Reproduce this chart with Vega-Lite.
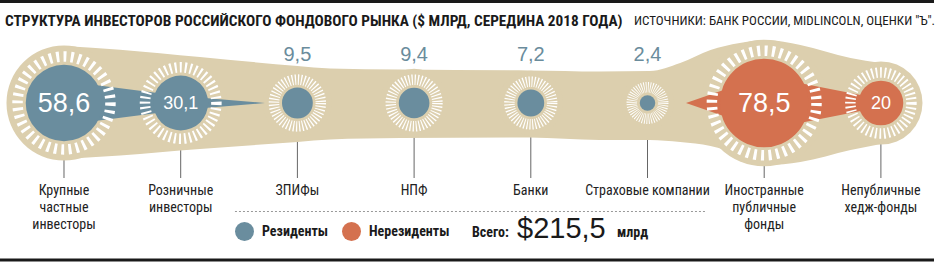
{
  "$schema": "https://vega.github.io/schema/vega-lite/v6.json",
  "width": 937,
  "height": 262,
  "padding": 0,
  "autosize": {"type": "none"},
  "background": "white",
  "config": {"view": {"stroke": null}, "axis": {"disable": true}},
  "datasets": {
    "nodes": [
      {"i": 0, "name": "Крупные частные инвесторы", "label": "Крупные\nчастные\nинвесторы", "value": 58.6, "text": "58,6", "group": "Резиденты"},
      {"i": 1, "name": "Розничные инвесторы", "label": "Розничные\nинвесторы", "value": 30.1, "text": "30,1", "group": "Резиденты"},
      {"i": 2, "name": "ЗПИФы", "label": "ЗПИФы", "value": 9.5, "text": "9,5", "group": "Резиденты"},
      {"i": 3, "name": "НПФ", "label": "НПФ", "value": 9.4, "text": "9,4", "group": "Резиденты"},
      {"i": 4, "name": "Банки", "label": "Банки", "value": 7.2, "text": "7,2", "group": "Резиденты"},
      {"i": 5, "name": "Страховые компании", "label": "Страховые компании", "value": 2.4, "text": "2,4", "group": "Резиденты"},
      {"i": 6, "name": "Иностранные публичные фонды", "label": "Иностранные\nпубличные\nфонды", "value": 78.5, "text": "78,5", "group": "Нерезиденты"},
      {"i": 7, "name": "Непубличные хедж-фонды", "label": "Непубличные\nхедж-фонды", "value": 20, "text": "20", "group": "Нерезиденты"}
    ],
    "band": [
      {"x": 0, "top": 57, "bot": -56},
      {"x": 0.48, "top": 53.3, "bot": -52.5},
      {"x": 1.165, "top": 46, "bot": -46},
      {"x": 2.0, "top": 37, "bot": -39},
      {"x": 2.28, "top": 34.5, "bot": -36.5},
      {"x": 2.88, "top": 33.5, "bot": -35},
      {"x": 3.99, "top": 32.5, "bot": -34.5},
      {"x": 4.59, "top": 31.5, "bot": -37},
      {"x": 5.02, "top": 32, "bot": -37},
      {"x": 5.28, "top": 40, "bot": -39},
      {"x": 5.54, "top": 53, "bot": -43},
      {"x": 5.79, "top": 60, "bot": -52},
      {"x": 6.02, "top": 63, "bot": -62},
      {"x": 6.31, "top": 58, "bot": -59},
      {"x": 6.74, "top": 45, "bot": -47},
      {"x": 7.0, "top": 40, "bot": -41}
    ],
    "wedges": [
      {"group": "Резиденты", "x": 0, "top": 22, "bot": -22},
      {"group": "Резиденты", "x": 1, "top": 7, "bot": -7},
      {"group": "Резиденты", "x": 1.722, "top": 0, "bot": 0},
      {"group": "Нерезиденты", "x": 5.33, "top": 0, "bot": 0},
      {"group": "Нерезиденты", "x": 6, "top": 27, "bot": -27},
      {"group": "Нерезиденты", "x": 7, "top": 4, "bot": -4}
    ]
  },
  "data": {"name": "nodes"},
  "resolve": {"scale": {"size": "independent"}},
  "layer": [
    {
      "data": {"values": [{}]},
      "mark": {"type": "rule", "color": "#1a1a1a", "strokeWidth": 3},
      "encoding": {
        "x": {"datum": -0.5484, "type": "quantitative", "scale": {"domain": [-0.5484, 7.4807], "nice": false, "zero": false}},
        "x2": {"datum": 7.455},
        "y": {"datum": 101.5, "type": "quantitative", "scale": {"domain": [-159, 103], "nice": false, "zero": false}}
      }
    },
    {
      "data": {"values": [{}]},
      "mark": {"type": "rule", "color": "#1a1a1a", "strokeWidth": 3},
      "encoding": {
        "x": {"datum": -0.5484, "type": "quantitative", "scale": {"domain": [-0.5484, 7.4807], "nice": false, "zero": false}},
        "x2": {"datum": 7.455},
        "y": {"datum": -157, "type": "quantitative", "scale": {"domain": [-159, 103], "nice": false, "zero": false}}
      }
    },
    {
      "mark": {"type": "rule", "color": "#666666", "strokeWidth": 1},
      "encoding": {
        "x": {"field": "i", "type": "quantitative", "scale": {"domain": [-0.5484, 7.4807], "nice": false, "zero": false}},
        "y": {"datum": 0, "type": "quantitative", "scale": {"domain": [-159, 103], "nice": false, "zero": false}},
        "y2": {"datum": -75}
      }
    },
    {
      "data": {"name": "band"},
      "mark": {"type": "area", "color": "#dccfae", "interpolate": "monotone", "opacity": 1},
      "encoding": {
        "x": {"field": "x", "type": "quantitative", "scale": {"domain": [-0.5484, 7.4807], "nice": false, "zero": false}},
        "y": {"field": "top", "type": "quantitative", "scale": {"domain": [-159, 103], "nice": false, "zero": false}},
        "y2": {"field": "bot"}
      }
    },
    {
      "mark": {"type": "point", "shape": "circle", "filled": true, "color": "#dccfae", "opacity": 1, "strokeWidth": 0},
      "encoding": {
        "x": {"field": "i", "type": "quantitative", "scale": {"domain": [-0.5484, 7.4807], "nice": false, "zero": false}},
        "y": {"datum": 0, "type": "quantitative", "scale": {"domain": [-159, 103], "nice": false, "zero": false}},
        "size": {"field": "value", "type": "quantitative", "scale": {"type": "pow", "exponent": 0.75, "zero": false, "nice": false, "domain": [2.4, 78.5], "range": [2861, 16027]}, "legend": null}
      }
    },
    {
      "data": {"name": "wedges"},
      "mark": {"type": "area", "opacity": 1},
      "encoding": {
        "x": {"field": "x", "type": "quantitative", "scale": {"domain": [-0.5484, 7.4807], "nice": false, "zero": false}},
        "y": {"field": "top", "type": "quantitative", "scale": {"domain": [-159, 103], "nice": false, "zero": false}},
        "y2": {"field": "bot"},
        "color": {"field": "group", "type": "nominal", "scale": {"domain": ["Резиденты", "Нерезиденты"], "range": ["#6a8d9e", "#d4714f"]}}
      }
    },
    {
      "mark": {"type": "point", "shape": "circle", "filled": false, "stroke": "white", "strokeWidth": 10.5, "opacity": 1},
      "encoding": {
        "x": {"field": "i", "type": "quantitative", "scale": {"domain": [-0.5484, 7.4807], "nice": false, "zero": false}},
        "y": {"datum": 0, "type": "quantitative", "scale": {"domain": [-159, 103], "nice": false, "zero": false}},
        "size": {"field": "value", "type": "quantitative", "scale": {"type": "pow", "exponent": 0.85, "zero": false, "nice": false, "domain": [2.4, 78.5], "range": [991.7, 10941]}, "legend": null},
        "strokeDash": {
          "field": "name", "type": "nominal", "legend": null,
          "scale": {
            "domain": ["Крупные частные инвесторы", "Розничные инвесторы", "ЗПИФы", "НПФ", "Банки", "Страховые компании", "Иностранные публичные фонды", "Непубличные хедж-фонды"],
            "range": [[2.9, 4.37], [2.0, 3.06], [1.2, 1.86], [1.2, 1.85], [1.1, 1.7], [0.8, 1.26], [3.0, 4.47], [1.7, 2.63]]
          }
        }
      }
    },
    {
      "mark": {"type": "point", "shape": "circle", "filled": true, "opacity": 1, "strokeWidth": 0},
      "encoding": {
        "x": {"field": "i", "type": "quantitative", "scale": {"domain": [-0.5484, 7.4807], "nice": false, "zero": false}},
        "y": {"datum": 0, "type": "quantitative", "scale": {"domain": [-159, 103], "nice": false, "zero": false}},
        "size": {"field": "value", "type": "quantitative", "scale": {"type": "linear", "zero": true, "nice": false, "domain": [0, 100], "range": [0, 10000]}, "legend": null},
        "color": {
          "field": "group", "type": "nominal",
          "scale": {"domain": ["Резиденты", "Нерезиденты"], "range": ["#6a8d9e", "#d4714f"]},
          "legend": {
            "orient": "none", "legendX": 235, "legendY": 222, "direction": "horizontal", "title": null,
            "symbolType": "circle", "symbolSize": 361, "symbolStrokeWidth": 0, "symbolOpacity": 1,
            "labelFontSize": 14, "labelFontWeight": "bold", "labelFont": "'Roboto Condensed', 'DejaVu Sans Condensed', sans-serif",
            "labelColor": "#1a1a1a", "labelOffset": 8, "columnPadding": 13, "padding": 0
          }
        }
      }
    },
    {
      "transform": [{"filter": "datum.value > 15"}],
      "mark": {"type": "text", "color": "white", "font": "'Liberation Sans', Arial, sans-serif", "baseline": "middle", "align": "center", "dy": 1},
      "encoding": {
        "x": {"field": "i", "type": "quantitative", "scale": {"domain": [-0.5484, 7.4807], "nice": false, "zero": false}},
        "y": {"datum": 0, "type": "quantitative", "scale": {"domain": [-159, 103], "nice": false, "zero": false}},
        "text": {"field": "text"},
        "size": {"field": "value", "type": "quantitative", "scale": {"type": "threshold", "domain": [50], "range": [18, 27]}, "legend": null}
      }
    },
    {
      "transform": [{"filter": "datum.value < 15"}],
      "mark": {"type": "text", "color": "#6a8c9c", "font": "'Liberation Sans', Arial, sans-serif", "fontSize": 20, "baseline": "middle", "align": "center"},
      "encoding": {
        "x": {"field": "i", "type": "quantitative", "scale": {"domain": [-0.5484, 7.4807], "nice": false, "zero": false}},
        "y": {"datum": 48, "type": "quantitative", "scale": {"domain": [-159, 103], "nice": false, "zero": false}},
        "text": {"field": "text"}
      }
    },
    {
      "mark": {"type": "text", "color": "#222222", "font": "'Roboto Condensed', 'DejaVu Sans Condensed', sans-serif", "fontSize": 14, "baseline": "alphabetic", "align": "center", "lineBreak": "\n", "lineHeight": 17},
      "encoding": {
        "x": {"field": "i", "type": "quantitative", "scale": {"domain": [-0.5484, 7.4807], "nice": false, "zero": false}},
        "y": {"datum": -92, "type": "quantitative", "scale": {"domain": [-159, 103], "nice": false, "zero": false}},
        "text": {"field": "label"}
      }
    },
    {
      "data": {"values": [{}]},
      "mark": {"type": "rule", "color": "#999999", "strokeWidth": 1, "strokeDash": [2, 2]},
      "encoding": {
        "x": {"datum": 1.465, "type": "quantitative", "scale": {"domain": [-0.5484, 7.4807], "nice": false, "zero": false}},
        "x2": {"datum": 5.493},
        "y": {"datum": -108.5, "type": "quantitative", "scale": {"domain": [-159, 103], "nice": false, "zero": false}}
      }
    },
    {
      "data": {"values": [{}]},
      "mark": {"type": "text", "text": "СТРУКТУРА ИНВЕСТОРОВ РОССИЙСКОГО ФОНДОВОГО РЫНКА ($ МЛРД, СЕРЕДИНА 2018 ГОДА)", "color": "#1a1a1a", "font": "'Roboto Condensed', 'DejaVu Sans Condensed', sans-serif", "fontWeight": "bold", "fontSize": 15.3, "align": "left", "baseline": "alphabetic"},
      "encoding": {
        "x": {"datum": -0.5056, "type": "quantitative", "scale": {"domain": [-0.5484, 7.4807], "nice": false, "zero": false}},
        "y": {"datum": 77, "type": "quantitative", "scale": {"domain": [-159, 103], "nice": false, "zero": false}}
      }
    },
    {
      "data": {"values": [{}]},
      "mark": {"type": "text", "text": "ИСТОЧНИКИ: БАНК РОССИИ, MIDLINCOLN, ОЦЕНКИ \"Ъ\".", "color": "#1a1a1a", "font": "'Roboto Condensed', 'DejaVu Sans Condensed', sans-serif", "fontSize": 13, "align": "left", "baseline": "alphabetic"},
      "encoding": {
        "x": {"datum": 4.884, "type": "quantitative", "scale": {"domain": [-0.5484, 7.4807], "nice": false, "zero": false}},
        "y": {"datum": 78, "type": "quantitative", "scale": {"domain": [-159, 103], "nice": false, "zero": false}}
      }
    },
    {
      "data": {"values": [{}]},
      "mark": {"type": "text", "text": "Всего:", "color": "#1a1a1a", "font": "'Roboto Condensed', 'DejaVu Sans Condensed', sans-serif", "fontWeight": "bold", "fontSize": 14, "align": "left", "baseline": "alphabetic"},
      "encoding": {
        "x": {"datum": 3.496, "type": "quantitative", "scale": {"domain": [-0.5484, 7.4807], "nice": false, "zero": false}},
        "y": {"datum": -134, "type": "quantitative", "scale": {"domain": [-159, 103], "nice": false, "zero": false}}
      }
    },
    {
      "data": {"values": [{}]},
      "mark": {"type": "text", "text": "$215,5", "color": "#1a1a1a", "font": "'Liberation Sans', Arial, sans-serif", "fontSize": 29, "align": "left", "baseline": "alphabetic"},
      "encoding": {
        "x": {"datum": 3.882, "type": "quantitative", "scale": {"domain": [-0.5484, 7.4807], "nice": false, "zero": false}},
        "y": {"datum": -135, "type": "quantitative", "scale": {"domain": [-159, 103], "nice": false, "zero": false}}
      }
    },
    {
      "data": {"values": [{}]},
      "mark": {"type": "text", "text": "млрд", "color": "#1a1a1a", "font": "'Roboto Condensed', 'DejaVu Sans Condensed', sans-serif", "fontWeight": "bold", "fontSize": 14, "align": "left", "baseline": "alphabetic"},
      "encoding": {
        "x": {"datum": 4.739, "type": "quantitative", "scale": {"domain": [-0.5484, 7.4807], "nice": false, "zero": false}},
        "y": {"datum": -134, "type": "quantitative", "scale": {"domain": [-159, 103], "nice": false, "zero": false}}
      }
    }
  ]
}
